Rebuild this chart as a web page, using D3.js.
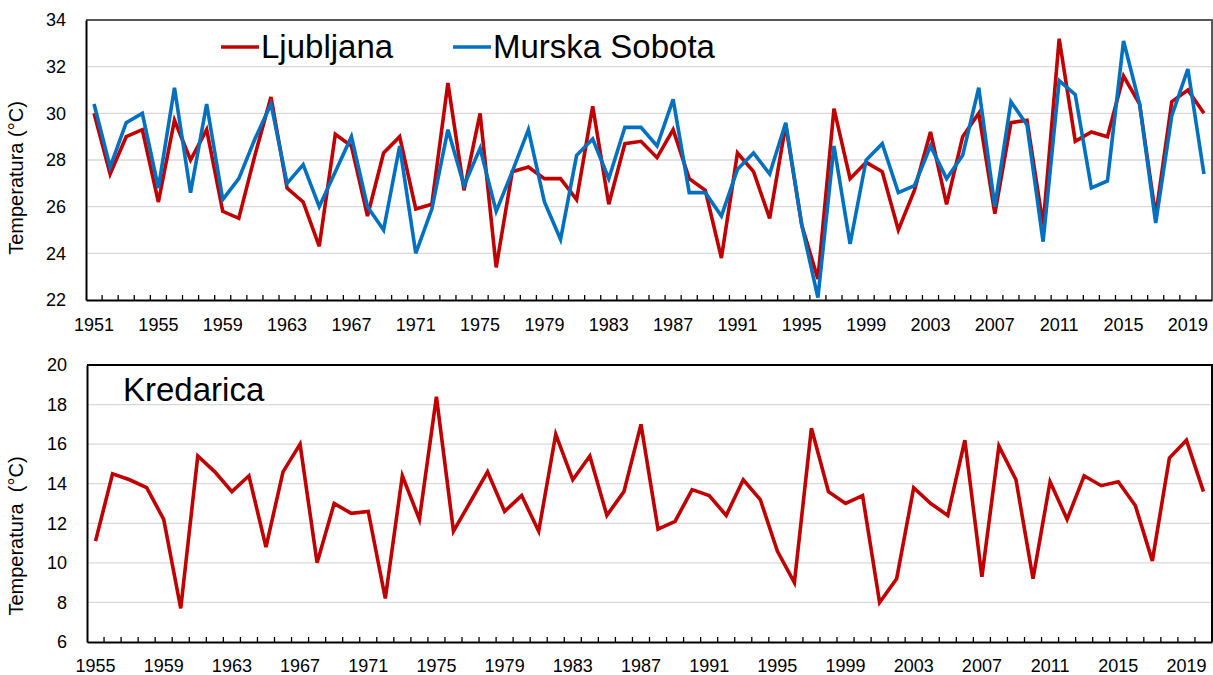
<!DOCTYPE html>
<html>
<head>
<meta charset="utf-8">
<script src="https://cdn.jsdelivr.net/npm/d3@7"></script>
<style>
  body { margin: 0; background: #fff; }
  text { font-family: "Liberation Sans", Arial, sans-serif; fill: #000; }
</style>
</head>
<body>
<svg id="chart" width="1213" height="675"></svg>
<script>
// years + series
const yearsTop = d3.range(1951, 2021)
const ljubljana = [30.0,27.4,29.0,29.3,26.2,29.7,28.0,29.3,25.8,25.5,
  28.2,30.7,26.8,26.2,24.3,29.1,28.6,25.6,28.3,29.0,
  25.9,26.1,31.3,26.7,30.0,23.4,27.5,27.7,27.2,27.2,
  26.3,30.3,26.1,28.7,28.8,28.1,29.3,27.2,26.7,23.8,
  28.3,27.5,25.5,29.5,25.2,22.9,30.2,27.2,27.9,27.5,
  25.0,26.7,29.2,26.1,29.0,30.0,25.7,29.6,29.7,25.2,
  33.2,28.8,29.2,29.0,31.6,30.4,25.6,30.5,31.0,30.0]
const murskaSobota = [30.4,27.7,29.6,30.0,26.8,31.1,26.6,30.4,26.3,27.2,
  28.9,30.4,27.0,27.8,26.0,27.5,29.0,26.0,25.0,28.6,
  24.0,25.9,29.3,26.9,28.5,25.8,27.5,29.3,26.2,24.6,
  28.2,28.9,27.2,29.4,29.4,28.6,30.6,26.6,26.6,25.6,
  27.6,28.3,27.4,29.6,25.2,22.1,28.6,24.4,28.0,28.7,
  26.6,26.9,28.6,27.2,28.2,31.1,26.0,30.5,29.5,24.5,
  31.4,30.8,26.8,27.1,33.1,30.4,25.3,29.9,31.9,27.4]

const yearsBottom = d3.range(1955, 2021)
const kredarica = [11.1,14.5,14.2,13.8,12.2,7.7,15.4,14.6,13.6,14.4,
  10.8,14.6,16.0,10.0,13.0,12.5,12.6,8.2,14.4,12.2,
  18.4,11.6,13.1,14.6,12.6,13.4,11.6,16.5,14.2,15.4,
  12.4,13.6,17.0,11.7,12.1,13.7,13.4,12.4,14.2,13.2,
  10.6,9.0,16.8,13.6,13.0,13.4,8.0,9.2,13.8,13.0,
  12.4,16.2,9.3,15.9,14.2,9.2,14.1,12.2,14.4,13.9,
  14.1,12.9,10.1,15.3,16.2,13.6]

const yTicksTop = [22,24,26,28,30,32,34]
const yTicksBottom = [6,8,10,12,14,16,18,20]

const RED = '#c00000'
const BLUE = '#0070c0'

const svg = d3.select('#chart')

const drawPanel = (props) => {
  const {box, years, series, yDomain, yTicks, frameColor, labelPad, title, titleY} = props

  const g = svg.append('g')

  const x = d3.scaleBand()
    .domain(years)
    .range([box.left, box.left + box.width])
    .paddingInner(0).paddingOuter(0)

  const y = d3.scaleLinear()
    .domain(yDomain)
    .range([box.top + box.height, box.top])

  // gridlines
  g.selectAll('.grid')
    .data(yTicks.slice(1, -1))
    .enter()
    .append('line')
    .attr('x1', box.left)
    .attr('x2', box.left + box.width)
    .attr('y1', d => y(d))
    .attr('y2', d => y(d))
    .style('stroke', '#d9d9d9')
    .style('stroke-width', 1.3)

  // frame (top + right)
  g.append('path')
    .attr('d', `M${box.left},${y(yDomain[1])}H${box.left + box.width}V${y(yDomain[0])}`)
    .style('fill', 'none')
    .style('stroke', frameColor)
    .style('stroke-width', 2)

  // y axis
  const yAxis = g.append('g')
    .attr('transform', `translate(${box.left},0)`)
    .call(d3.axisLeft(y).tickValues(yTicks).tickSize(0).tickPadding(20))
  yAxis.select('.domain').style('stroke', '#000').style('stroke-width', 2)
  yAxis.selectAll('text')
    .style('font-size', '18px')
    .style('font-family', '"Liberation Sans", Arial, sans-serif')

  // x axis: minor ticks at category boundaries, pointing inwards
  g.selectAll('.xtick')
    .data(years.slice(1))
    .enter()
    .append('line')
    .attr('x1', d => x(d))
    .attr('x2', d => x(d))
    .attr('y1', box.top + box.height)
    .attr('y2', box.top + box.height - 5)
    .style('stroke', '#000')
    .style('stroke-width', 1.3)

  const xAxis = g.append('g')
    .attr('transform', `translate(0,${box.top + box.height})`)
    .call(d3.axisBottom(x)
      .tickValues(years.filter((d, i) => i % 4 === 0))
      .tickSize(0)
      .tickPadding(labelPad))
  xAxis.select('.domain').style('stroke', '#000').style('stroke-width', 2)
  xAxis.selectAll('text')
    .style('font-size', '18px')
    .style('font-family', '"Liberation Sans", Arial, sans-serif')

  // y title
  g.append('text')
    .attr('transform', `translate(23,${titleY}) rotate(-90)`)
    .style('text-anchor', 'middle')
    .style('font-size', '20px')
    .style('white-space', 'pre')
    .text(title)

  // lines
  const line = d3.line()
    .x((d, i) => x(years[i]) + x.bandwidth() / 2)
    .y(d => y(d))

  series.forEach(s => {
    g.append('path')
      .datum(s.values)
      .attr('d', line)
      .style('fill', 'none')
      .style('stroke', s.color)
      .style('stroke-width', 3.6)
      .style('stroke-linejoin', 'miter')
  })

  return g
}

drawPanel({
  box: {left: 86, top: 20, width: 1126, height: 280},
  years: yearsTop,
  series: [
    {name: 'Ljubljana', values: ljubljana, color: RED},
    {name: 'Murska Sobota', values: murskaSobota, color: BLUE}
  ],
  yDomain: [22, 34],
  yTicks: yTicksTop,
  frameColor: '#595959',
  labelPad: 18,
  title: 'Temperatura (°C)',
  titleY: 178
})

drawPanel({
  box: {left: 87, top: 365, width: 1125, height: 277},
  years: yearsBottom,
  series: [{name: 'Kredarica', values: kredarica, color: RED}],
  yDomain: [6, 20],
  yTicks: yTicksBottom,
  frameColor: '#000',
  labelPad: 17,
  title: 'Temperatura  (°C)',
  titleY: 536
})

// legend (top panel)
const legend = [
  {name: 'Ljubljana', color: RED, x: 221},
  {name: 'Murska Sobota', color: BLUE, x: 453}
]
const lg = svg.append('g')
legend.forEach(d => {
  lg.append('line')
    .attr('x1', d.x).attr('x2', d.x + 38)
    .attr('y1', 47).attr('y2', 47)
    .style('stroke', d.color)
    .style('stroke-width', 3.6)
  lg.append('text')
    .attr('x', d.x + 40)
    .attr('y', 58)
    .style('font-size', '33px')
    .text(d.name)
})

// bottom panel label
svg.append('text')
  .attr('x', 123)
  .attr('y', 401)
  .style('font-size', '33px')
  .text('Kredarica')
</script>
</body>
</html>
